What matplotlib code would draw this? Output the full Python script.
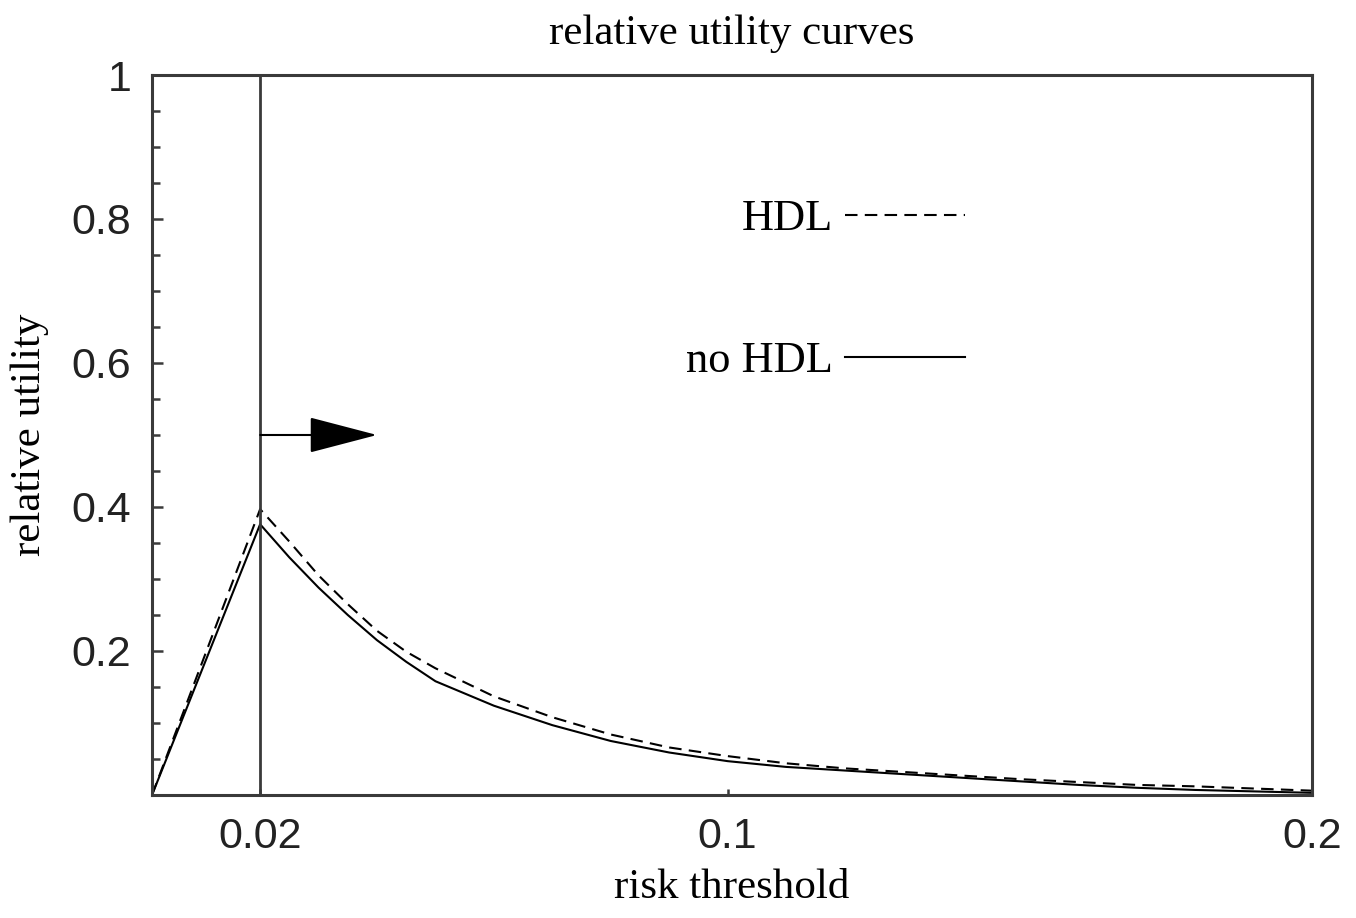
import matplotlib
matplotlib.use("Agg")
import matplotlib.pyplot as plt
from matplotlib.ticker import FixedLocator, MultipleLocator

# ---- data ----
threshold = [0.0015, 0.02, 0.025, 0.03, 0.035, 0.04, 0.045, 0.05, 0.06, 0.07,
             0.08, 0.09, 0.10, 0.11, 0.12, 0.13, 0.14, 0.15, 0.16, 0.17,
             0.18, 0.19, 0.20]
ru_no_hdl = [0.0, 0.376, 0.330, 0.288, 0.250, 0.215, 0.185, 0.158, 0.124, 0.097,
             0.075, 0.059, 0.047, 0.039, 0.034, 0.029, 0.024, 0.019, 0.014, 0.010,
             0.007, 0.005, 0.003]
ru_hdl = [0.0, 0.397, 0.352, 0.305, 0.265, 0.228, 0.199, 0.176, 0.137, 0.108,
          0.084, 0.066, 0.054, 0.044, 0.037, 0.032, 0.027, 0.022, 0.018, 0.014,
          0.012, 0.009, 0.006]
chosen_threshold = 0.02
arrow_end = 0.04
arrow_level = 0.5
x_ticks = [0.02, 0.1, 0.2]
x_ticklabels = ["0.02", "0.1", "0.2"]
y_ticks = [0.2, 0.4, 0.6, 0.8, 1.0]
y_ticklabels = ["0.2", "0.4", "0.6", "0.8", "1"]
series_labels = ["HDL", "no HDL"]

serif = ["Liberation Serif", "DejaVu Serif"]
narrow = ["Liberation Sans Narrow", "Liberation Sans", "DejaVu Sans"]

fig = plt.figure(figsize=(13.56, 9.18), dpi=100)
ax = fig.add_axes([0.1121, 0.134, 0.8555, 0.7843])

ink = "black"
spine_col = "#3a3a3a"

l_hdl, = ax.plot(threshold, ru_hdl, color=ink, lw=1.5, linestyle=(0, (6, 3.5)),
                 label=series_labels[0])
l_no, = ax.plot(threshold, ru_no_hdl, color=ink, lw=1.5, label=series_labels[1])

ax.axvline(chosen_threshold, color=spine_col, lw=2)
ax.annotate("", xy=(arrow_end, arrow_level), xytext=(chosen_threshold, arrow_level),
            arrowprops=dict(arrowstyle="-|>,head_length=4.4,head_width=1.15",
                            mutation_scale=10, color=ink, lw=1.5,
                            shrinkA=0, shrinkB=0))

ax.set_xlim(threshold[0], 0.2)
ax.set_ylim(0, 1)

for s in ax.spines.values():
    s.set_linewidth(2.2)
    s.set_color(spine_col)

ax.xaxis.set_major_locator(FixedLocator(x_ticks))
ax.set_xticklabels(x_ticklabels)
ax.yaxis.set_major_locator(FixedLocator(y_ticks))
ax.set_yticklabels(y_ticklabels)
ax.yaxis.set_minor_locator(MultipleLocator(0.05))
ax.tick_params(axis="y", which="major", direction="in", length=8, width=1.8,
               color=spine_col, pad=15)
ax.tick_params(axis="y", which="minor", direction="in", length=6, width=1.8,
               color=spine_col)
ax.tick_params(axis="x", which="major", direction="in", length=4, width=1.8,
               color=spine_col, pad=16)
ax.tick_params(right=False, top=False)
for lab in ax.get_xticklabels() + ax.get_yticklabels():
    lab.set_family(narrow)
    lab.set_fontsize(31)
    lab.set_color("#222222")

ax.set_title("relative utility curves", family=serif, fontsize=31, pad=22)
ax.set_xlabel("risk threshold", family=serif, fontsize=31, labelpad=8)
ax.set_ylabel("relative utility", family=serif, fontsize=31, labelpad=16)

leg = ax.legend(handles=[l_hdl, l_no], loc="center right",
                bbox_to_anchor=(0.701, 0.701), frameon=False, markerfirst=False,
                prop=dict(family=serif, size=32), handlelength=2.7,
                handletextpad=0.27, labelspacing=2.3, borderpad=0,
                borderaxespad=0)

fig.savefig("out.png", dpi=100, facecolor="white")
